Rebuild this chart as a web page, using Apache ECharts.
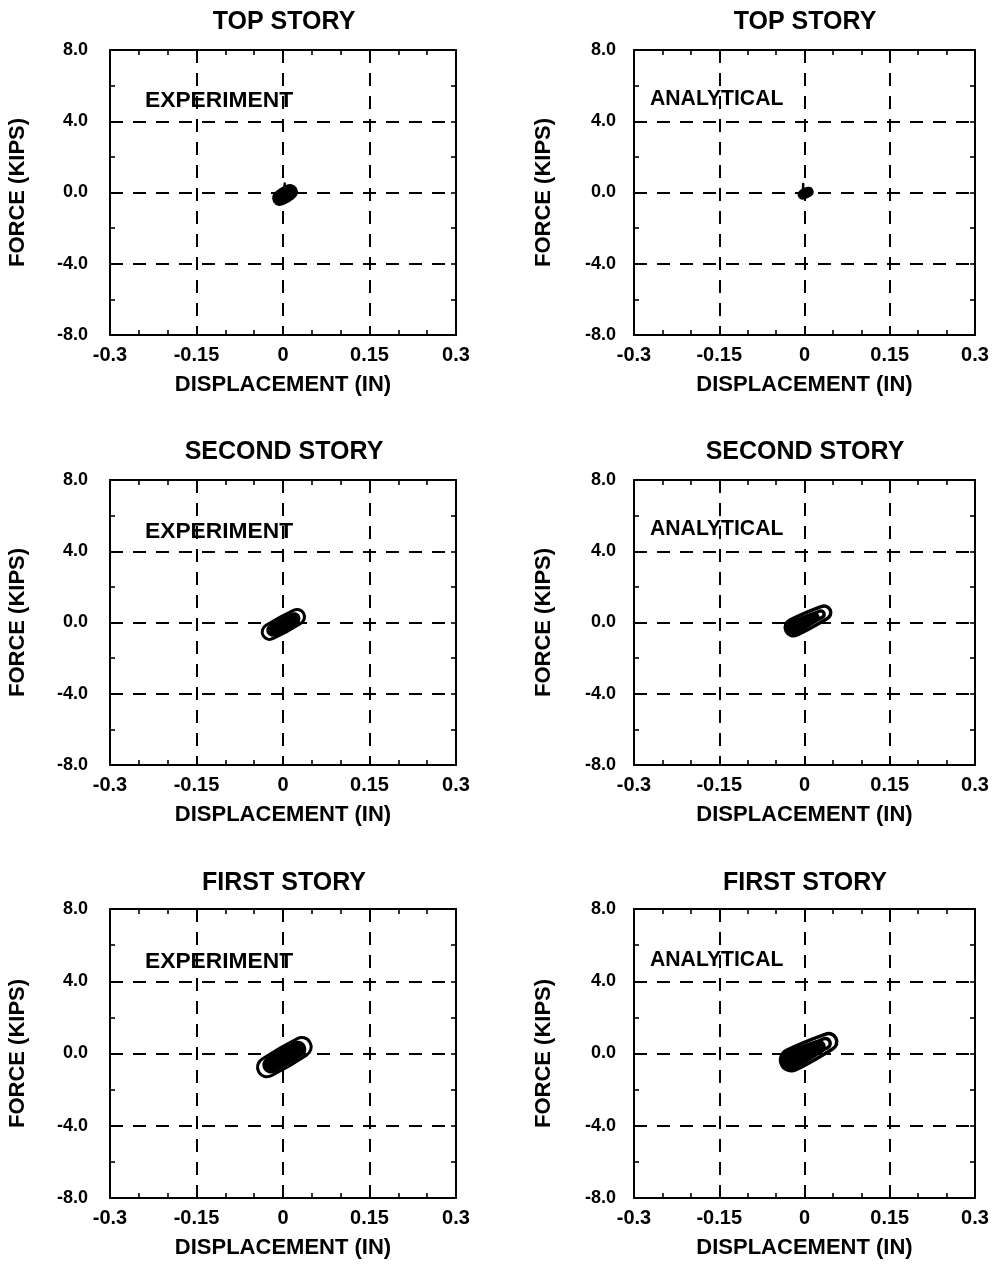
<!DOCTYPE html>
<html>
<head>
<meta charset="utf-8">
<script src="https://cdn.jsdelivr.net/npm/echarts@6/dist/echarts.min.js"></script>
<style>
  html, body { margin: 0; padding: 0; background: #fff; }
  #chart { width: 997px; height: 1265px; }
</style>
</head>
<body>
<div id="chart"></div>
<script>
// Axis ticks
const dispTicks = [-0.3, -0.15, 0, 0.15, 0.3];     // displacement (in)
const forceTicks = [-8, -4, 0, 4, 8];              // force (kips)
const storyTitles = ['TOP STORY', 'SECOND STORY', 'FIRST STORY'];
const sourceLabels = ['EXPERIMENT', 'ANALYTICAL'];

// Hysteresis loop envelopes, points are [displacement (in), force (kips)]
// Top story, experiment
const topExpLoop = [[0.0216,0.219],[0.0146,0.383],[0.0061,0.338],[-0.0109,0.002],[-0.0160,-0.224],[-0.0146,-0.499],[-0.0076,-0.663],[0.0009,-0.618],[0.0179,-0.282],[0.0230,-0.056]];
const topExpTail = [[0.0025,0.33],[0.0030,0.50]];
// Top story, analytical
const topAnaLoop = [[0.0136,0.140],[0.0093,0.263],[0.0035,0.251],[-0.0061,0.103],[-0.0100,-0.035],[-0.0096,-0.220],[-0.0053,-0.343],[0.0005,-0.331],[0.0101,-0.183],[0.0140,-0.045]];
const topAnaTail = [[-0.0025,0.15],[-0.0023,0.48]];
// Second story, experiment
const secondExpOuter = [[0.0357,0.517],[0.0279,0.718],[0.0180,0.682],[-0.0294,-0.160],[-0.0356,-0.411],[-0.0345,-0.731],[-0.0267,-0.932],[-0.0168,-0.896],[0.0306,-0.054],[0.0368,0.197]];
const secondExpCore = [[0.0289,0.395],[0.0221,0.569],[0.0136,0.538],[-0.0232,-0.114],[-0.0286,-0.332],[-0.0277,-0.609],[-0.0209,-0.783],[-0.0124,-0.752],[0.0244,-0.100],[0.0298,0.118]];
// Second story, analytical
const secondAnaOuter = [[0.0450,0.716],[0.0382,0.908],[0.0291,0.891],[-0.0257,0.136],[-0.0331,-0.129],[-0.0325,-0.483],[-0.0242,-0.719],[-0.0131,-0.698],[0.0395,0.209],[0.0455,0.426]];
const secondAnaMid = [[0.0339,0.544],[0.0305,0.641],[0.0259,0.633],[-0.0220,-0.109],[-0.0248,-0.364],[-0.0168,-0.453],[0.0311,0.289],[0.0342,0.399]];
const secondAnaCore = [[0.0256,0.415],[0.0201,0.572],[0.0127,0.558],[-0.0248,0.072],[-0.0310,-0.152],[-0.0305,-0.453],[-0.0234,-0.652],[-0.0140,-0.634],[0.0211,0.002],[0.0261,0.179]];
// First story, experiment
const firstExpOuter = [[0.0466,0.626],[0.0366,0.869],[0.0241,0.814],[-0.0361,-0.310],[-0.0437,-0.630],[-0.0420,-1.030],[-0.0320,-1.273],[-0.0195,-1.218],[0.0407,-0.094],[0.0483,0.226]];
const firstExpCore = [[0.0384,0.472],[0.0294,0.689],[0.0183,0.641],[-0.0285,-0.231],[-0.0354,-0.519],[-0.0338,-0.876],[-0.0248,-1.093],[-0.0137,-1.045],[0.0331,-0.173],[0.0400,0.115]];
// First story, analytical
const firstAnaOuter = [[0.0554,0.849],[0.0471,1.080],[0.0360,1.058],[-0.0315,0.175],[-0.0411,-0.167],[-0.0402,-0.622],[-0.0293,-0.924],[-0.0149,-0.895],[0.0488,0.238],[0.0561,0.500]];
const firstAnaMid = [[0.0443,0.678],[0.0394,0.816],[0.0328,0.803],[-0.0270,-0.116],[-0.0309,-0.479],[-0.0194,-0.604],[0.0404,0.315],[0.0448,0.471]];
const firstAnaCore = [[0.0361,0.551],[0.0290,0.747],[0.0196,0.728],[-0.0306,0.113],[-0.0390,-0.190],[-0.0382,-0.592],[-0.0286,-0.858],[-0.0158,-0.833],[0.0304,0.032],[0.0367,0.254]];

const FONT = '"Liberation Sans", Arial, Helvetica, sans-serif';
const black = '#000';

// Panel layout: row = story, col = 0 experiment / 1 analytical
const colLeft = [110, 634];
const colWidth = [346, 341];
const colCenter = [284, 805];
const rowTop = [50, 480, 909];
const rowHeight = [285, 285, 289];
const titleY = [22, 452, 883];
const labelY = [[101, 99], [532, 529], [962, 960]];
const labelX = [145, 650];
const labelSize = [22.8, 21.2];
const yLabelMargin = [22, 18];
const yNameGap = [81, 79];

// Each loop: [points, mode, width]; 'fill' = solid envelope, 'line' = loop trace
const panels = [
  { row: 0, col: 0, loops: [[topExpLoop, 'fill', 3], [topExpTail, 'open', 2.5]] },
  { row: 0, col: 1, loops: [[topAnaLoop, 'fill', 2], [topAnaTail, 'open', 2.5]] },
  { row: 1, col: 0, loops: [[secondExpCore, 'solid', 0], [secondExpOuter, 'line', 3]] },
  { row: 1, col: 1, loops: [[secondAnaCore, 'solid', 0], [secondAnaMid, 'line', 3.5], [secondAnaOuter, 'line', 3.5]] },
  { row: 2, col: 0, loops: [[firstExpCore, 'solid', 0], [firstExpOuter, 'line', 3]] },
  { row: 2, col: 1, loops: [[firstAnaCore, 'solid', 0], [firstAnaMid, 'line', 3.5], [firstAnaOuter, 'line', 3.5]] }
];

const frameLine = { show: true, onZero: false, lineStyle: { color: black, width: 2 } };
const tick = { show: true, inside: true, length: 5, lineStyle: { color: black, width: 1.6 } };
const gridDash = { show: true, lineStyle: { color: black, width: 2, type: [13, 10] } };
const nameStyle = { color: black, fontFamily: FONT, fontWeight: 'bold', fontSize: 22 };

// Draws a whole loop once, mapping every point through the axes of the grid
function loopRenderer(points, mode, width) {
  return function (params, api) {
    if (params.dataIndex !== 0) return null;
    const pts = points.map(p => api.coord(p));
    if (mode === 'open') {
      return { type: 'polyline', shape: { points: pts },
               style: { stroke: black, lineWidth: width, fill: null, lineCap: 'round' } };
    }
    const style = mode === 'line'
      ? { stroke: black, lineWidth: width, fill: null }
      : mode === 'fill'
        ? { stroke: black, lineWidth: width, fill: black }
        : { fill: black, stroke: null };
    return { type: 'polygon', shape: { points: pts, smooth: 0.35 }, style: style };
  };
}

const grid = [], xAxis = [], yAxis = [], series = [], graphic = [];

panels.forEach((p, i) => {
  grid.push({ left: colLeft[p.col], top: rowTop[p.row], width: colWidth[p.col], height: rowHeight[p.row] });
  const xBase = {
    type: 'value', gridIndex: i,
    min: dispTicks[0], max: dispTicks[dispTicks.length - 1], interval: dispTicks[2] - dispTicks[1],
    axisLine: frameLine, axisTick: tick,
    minorTick: { show: true, splitNumber: 3, length: 5, lineStyle: { color: black, width: 1.6 } }
  };
  const yBase = {
    type: 'value', gridIndex: i,
    min: forceTicks[0], max: forceTicks[forceTicks.length - 1], interval: forceTicks[2] - forceTicks[1],
    axisLine: frameLine, axisTick: tick,
    minorTick: { show: true, splitNumber: 2, length: 5, lineStyle: { color: black, width: 1.6 } }
  };
  xAxis.push(Object.assign({}, xBase, {
    position: 'bottom',
    splitLine: gridDash,
    axisLabel: { color: black, fontFamily: FONT, fontWeight: 'bold', fontSize: 20, margin: 10 },
    name: 'DISPLACEMENT (IN)', nameLocation: 'middle', nameGap: 39, nameTextStyle: nameStyle
  }));
  xAxis.push(Object.assign({}, xBase, {
    position: 'top', splitLine: { show: false }, axisLabel: { show: false }
  }));
  yAxis.push(Object.assign({}, yBase, {
    position: 'left',
    splitLine: gridDash,
    axisLabel: { color: black, fontFamily: FONT, fontWeight: 'bold', fontSize: 18, margin: yLabelMargin[p.col],
                 formatter: v => v.toFixed(1) },
    name: 'FORCE (KIPS)', nameLocation: 'middle', nameGap: yNameGap[p.col], nameTextStyle: nameStyle
  }));
  yAxis.push(Object.assign({}, yBase, {
    position: 'right', splitLine: { show: false }, axisLabel: { show: false }
  }));

  p.loops.forEach(([points, mode, width]) => {
    series.push({
      type: 'custom', xAxisIndex: 2 * i, yAxisIndex: 2 * i,
      data: points, renderItem: loopRenderer(points, mode, width),
      silent: true, z: 5, clip: false
    });
  });

  graphic.push({
    type: 'text', x: labelX[p.col], y: labelY[p.row][p.col],
    style: { text: sourceLabels[p.col], fill: black, textVerticalAlign: 'middle',
             font: 'bold ' + labelSize[p.col] + 'px ' + FONT }
  });
});

storyTitles.forEach((t, r) => {
  [0, 1].forEach(c => {
    graphic.push({
      type: 'text', x: colCenter[c], y: titleY[r],
      style: { text: t, fill: black, textAlign: 'center', textVerticalAlign: 'middle',
               font: 'bold 25px ' + FONT }
    });
  });
});

const chart = echarts.init(document.getElementById('chart'), null, { renderer: 'canvas' });
chart.setOption({
  animation: false,
  backgroundColor: '#fff',
  grid, xAxis, yAxis, series, graphic
});
</script>
</body>
</html>
